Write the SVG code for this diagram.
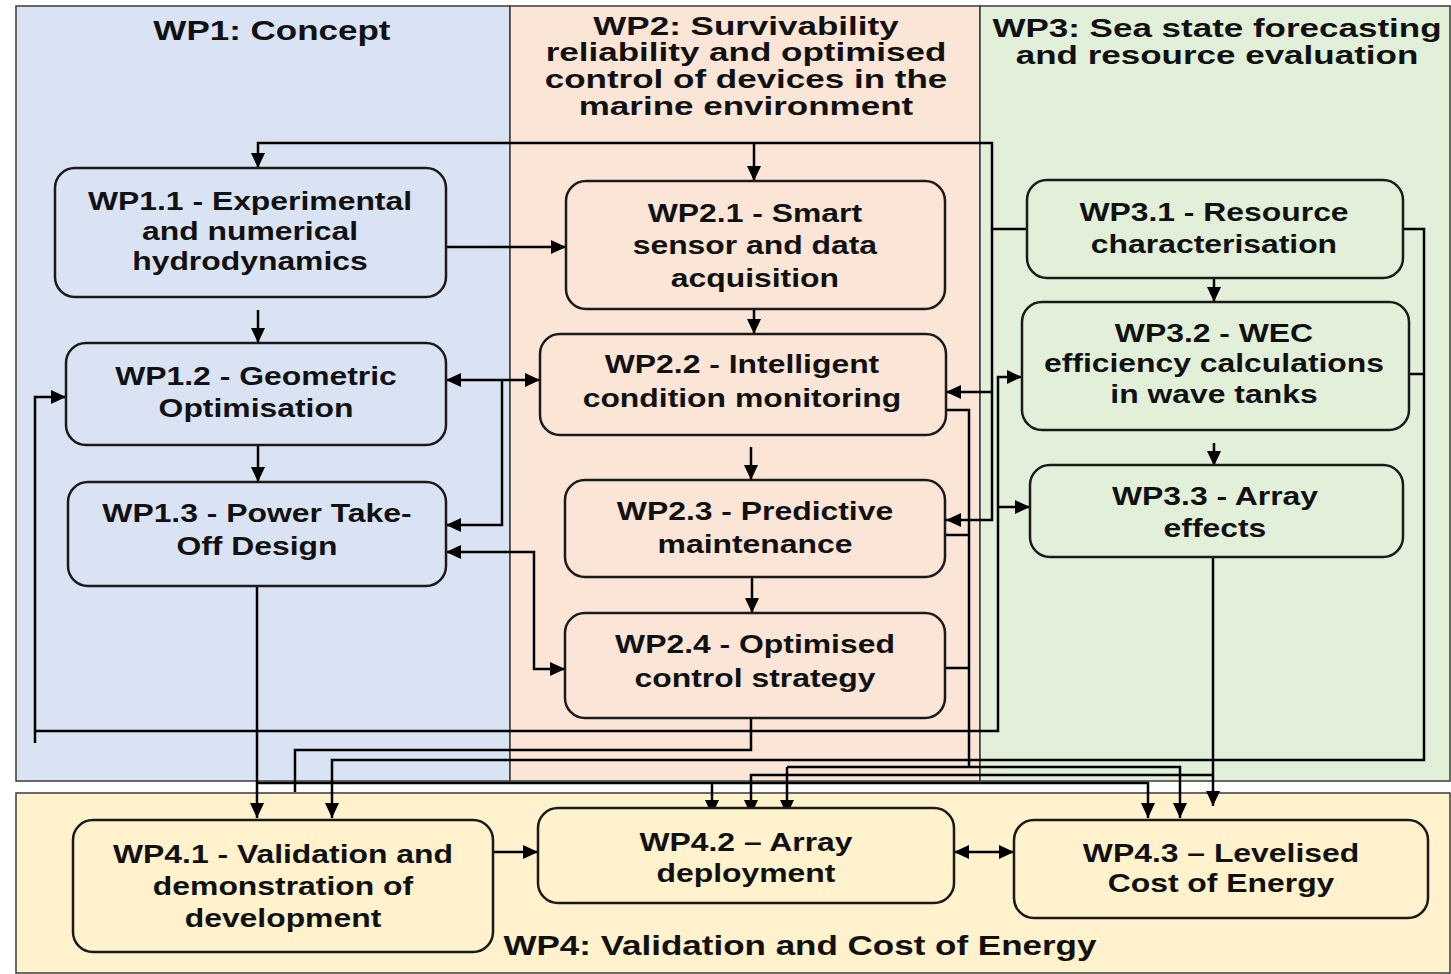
<svg xmlns="http://www.w3.org/2000/svg" width="1451" height="974" viewBox="0 0 1451 974">
<style>
.txt { font-family: "Liberation Sans", Arial, sans-serif; font-weight: bold; text-anchor: middle; fill: #111; transform-box: fill-box; transform-origin: center; transform: scaleX(1.25); }
.lbl { font-size: 25.5px; }
.ttl { font-size: 28px; }
.ttl2 { font-size: 25px; transform: scaleX(1.4); }
.panel { stroke: #3a3a3a; stroke-width: 1.5; }
.node { stroke: #1a1a1a; stroke-width: 2.5; }
.n1 { fill: #dae3f3; }
.n2 { fill: #fbe5d6; }
.n3 { fill: #e2f0d9; }
.n4 { fill: #fff2cc; }
.c { fill: none; stroke: #000; stroke-width: 2.5; }
.a { marker-end: url(#arr); }
.b { marker-start: url(#arr); marker-end: url(#arr); }
</style>
<defs>
<marker id="arr" markerUnits="userSpaceOnUse" markerWidth="15" markerHeight="14" refX="15" refY="7" orient="auto-start-reverse">
<path d="M0,0 L15,7 L0,14 z" fill="#000"/>
</marker>
</defs>
<rect width="1451" height="974" fill="#fff"/>
<g id="panels">
<rect class="panel n1" x="16" y="6" width="494" height="775"/>
<rect class="panel n2" x="510" y="6" width="470" height="775"/>
<rect class="panel n3" x="980" y="6" width="470" height="775"/>
<rect class="panel n4" x="16" y="793" width="1434" height="180"/>
<text class="txt ttl" x="272" y="40">WP1: Concept</text>
<text class="txt ttl2"><tspan x="746" y="35">WP2: Survivability</tspan><tspan x="746" y="61">reliability and optimised</tspan><tspan x="746" y="88">control of devices in the</tspan><tspan x="746" y="115">marine environment</tspan></text>
<text class="txt ttl2"><tspan x="1217" y="37">WP3: Sea state forecasting</tspan><tspan x="1217" y="64">and resource evaluation</tspan></text>
<text class="txt ttl" x="800" y="955">WP4: Validation and Cost of Energy</text>
</g>
<g id="connectors">
<path class="c a" d="M1027,229 H992 V143 H258 V168"/>
<path class="c a" d="M754,143 V181"/>
<path class="c a" d="M992,229 V520 H946"/>
<path class="c a" d="M992,392 H946"/>
<path class="c" d="M751,718 V750 H295 V792"/>
<path class="c a" d="M35,743 V397 H66"/>
<path class="c a" d="M35,731 H998 V377 H1022"/>
<path class="c a" d="M998,507 H1030"/>
<path class="c" d="M946,410 H969 V767 M946,535 H969 M946,668 H969"/>
<path class="c a" d="M787,767 H1180 V818"/>
<path class="c a" d="M787,767 V815"/>
<path class="c a" d="M257,586 V818"/>
<path class="c a" d="M257,783 H1148 V818"/>
<path class="c a" d="M712,783 V815"/>
<path class="c a" d="M1403,229 H1424 V760 H332 V818"/>
<path class="c" d="M1409,374 H1424"/>
<path class="c a" d="M1213,557 V806"/>
<path class="c a" d="M1213,775 H751 V815"/>
<path class="c a" d="M446,247 H566"/>
<path class="c a" d="M258,310 V343"/>
<path class="c a" d="M258,445 V482"/>
<path class="c b" d="M446,380 H540"/>
<path class="c a" d="M502,380 V525 H446"/>
<path class="c b" d="M446,552 H534 V669 H565"/>
<path class="c a" d="M754,309 V334"/>
<path class="c a" d="M751,447 V480"/>
<path class="c a" d="M752,577 V613"/>
<path class="c a" d="M1214,278 V302"/>
<path class="c a" d="M1214,443 V466"/>
<path class="c a" d="M493,852 H538"/>
<path class="c b" d="M954,852 H1014"/>
</g>
<g id="wp1-1"><rect class="node n1" x="55" y="168" width="391" height="129" rx="20"/><text class="txt lbl"><tspan x="250" y="210">WP1.1 - Experimental</tspan><tspan x="250" y="240">and numerical</tspan><tspan x="250" y="270">hydrodynamics</tspan></text></g>
<g id="wp1-2"><rect class="node n1" x="66" y="343" width="380" height="102" rx="20"/><text class="txt lbl"><tspan x="256" y="385">WP1.2 - Geometric</tspan><tspan x="256" y="417">Optimisation</tspan></text></g>
<g id="wp1-3"><rect class="node n1" x="68" y="482" width="378" height="104" rx="20"/><text class="txt lbl"><tspan x="257" y="522">WP1.3 - Power Take-</tspan><tspan x="257" y="555">Off Design</tspan></text></g>
<g id="wp2-1"><rect class="node n2" x="566" y="181" width="379" height="128" rx="20"/><text class="txt lbl"><tspan x="755" y="222">WP2.1 - Smart</tspan><tspan x="755" y="254">sensor and data</tspan><tspan x="755" y="287">acquisition</tspan></text></g>
<g id="wp2-2"><rect class="node n2" x="540" y="334" width="406" height="101" rx="20"/><text class="txt lbl"><tspan x="742" y="373">WP2.2 - Intelligent</tspan><tspan x="742" y="407">condition monitoring</tspan></text></g>
<g id="wp2-3"><rect class="node n2" x="565" y="480" width="380" height="97" rx="20"/><text class="txt lbl"><tspan x="755" y="520">WP2.3 - Predictive</tspan><tspan x="755" y="553">maintenance</tspan></text></g>
<g id="wp2-4"><rect class="node n2" x="565" y="613" width="380" height="105" rx="20"/><text class="txt lbl"><tspan x="755" y="653">WP2.4 - Optimised</tspan><tspan x="755" y="687">control strategy</tspan></text></g>
<g id="wp3-1"><rect class="node n3" x="1027" y="180" width="376" height="98" rx="20"/><text class="txt lbl"><tspan x="1214" y="221">WP3.1 - Resource</tspan><tspan x="1214" y="253">characterisation</tspan></text></g>
<g id="wp3-2"><rect class="node n3" x="1022" y="302" width="387" height="128" rx="20"/><text class="txt lbl"><tspan x="1214" y="342">WP3.2 - WEC</tspan><tspan x="1214" y="372">efficiency calculations</tspan><tspan x="1214" y="403">in wave tanks</tspan></text></g>
<g id="wp3-3"><rect class="node n3" x="1030" y="465" width="373" height="92" rx="20"/><text class="txt lbl"><tspan x="1215" y="505">WP3.3 - Array</tspan><tspan x="1215" y="537">effects</tspan></text></g>
<g id="wp4-1"><rect class="node n4" x="73" y="820" width="420" height="132" rx="20"/><text class="txt lbl"><tspan x="283" y="863">WP4.1 - Validation and</tspan><tspan x="283" y="895">demonstration of</tspan><tspan x="283" y="927">development</tspan></text></g>
<g id="wp4-2"><rect class="node n4" x="538" y="808" width="416" height="95" rx="20"/><text class="txt lbl"><tspan x="746" y="851">WP4.2 – Array</tspan><tspan x="746" y="882">deployment</tspan></text></g>
<g id="wp4-3"><rect class="node n4" x="1014" y="820" width="414" height="98" rx="20"/><text class="txt lbl"><tspan x="1221" y="862">WP4.3 – Levelised</tspan><tspan x="1221" y="892">Cost of Energy</tspan></text></g>
</svg>
